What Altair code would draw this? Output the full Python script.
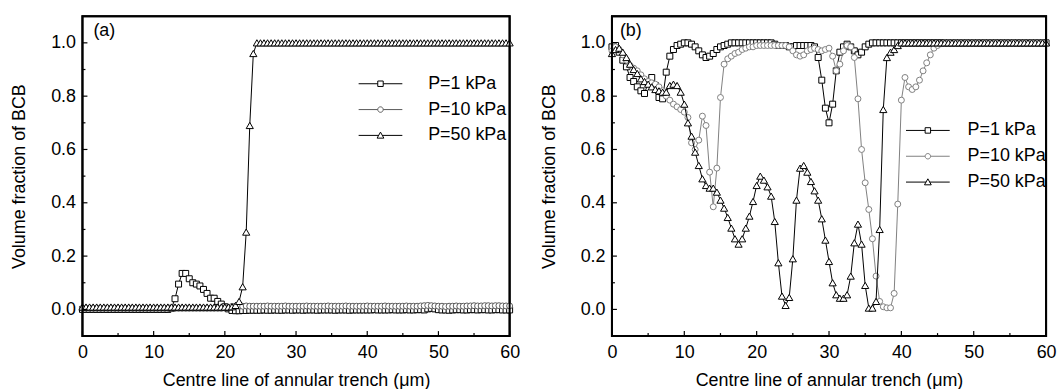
import altair as alt
import pandas as pd

# sample positions along the trench centre line (um)
X_UM = [i / 2 for i in range(121)]

SERIES = ["P=1 kPa", "P=10 kPa", "P=50 kPa"]
COLORS_A = ["#000000", "#5a5a5a", "#000000"]
COLORS_B = ["#000000", "#808080", "#000000"]
SERIES_SHAPES = ["square", "circle", "triangle-up"]
SERIES_SIZES = [36, 36, 52]
LEGEND_PATHS = [
    "M-4,0H-0.5M0.5,0H4M-0.5,-0.5H0.5V0.5H-0.5Z",
    "M-4,0H-0.5M0.5,0H4M0.5,0A0.5,0.5,0,1,1,-0.5,0A0.5,0.5,0,1,1,0.5,0Z",
    "M-4,0H-0.33M0.33,0H4M0,-0.6L0.62,0.5H-0.62Z",
]
PANEL_TAGS = ["(a)", "(b)"]
FRAME_COLOR = "#000000"

X_MAJOR = [0, 10, 20, 30, 40, 50, 60]
X_MINOR = [5, 15, 25, 35, 45, 55]
Y_MAJOR = [0.0, 0.2, 0.4, 0.6, 0.8, 1.0]
Y_MINOR = [0.1, 0.3, 0.5, 0.7, 0.9]

# ---------------- panel (a) ----------------
A_P1 = [
    0, 0, 0, 0, 0, 0, 0, 0, 0, 0,
    0, 0, 0, 0, 0, 0, 0, 0, 0, 0,
    0, 0, 0, 0, 0, 0.004, 0.04, 0.095, 0.135, 0.135,
    0.115, 0.1, 0.095, 0.088, 0.075, 0.06, 0.042, 0.042, 0.03, 0.02,
    0.01, 0.002, -0.004, -0.005, -0.005, -0.004, -0.004, -0.003, -0.003, -0.003,
    -0.003, -0.002, -0.003, -0.003, -0.002, -0.003, -0.003, -0.002, -0.002, -0.003,
    -0.002, -0.002, -0.003, -0.002, -0.002, -0.002, -0.003, -0.002, -0.002, -0.002,
    -0.002, -0.003, -0.002, -0.002, -0.002, -0.003, -0.002, -0.002, -0.002, -0.002,
    -0.002, -0.002, -0.001, -0.002, -0.002, -0.002, -0.002, -0.001, -0.002, -0.002,
    -0.002, -0.001, -0.002, -0.002, -0.001, -0.001, -0.002, 0.002, 0.004, 0.002,
    -0.001, -0.002, -0.002, -0.003, -0.002, -0.001, -0.001, -0.002, -0.002, -0.001,
    -0.001, -0.002, -0.001, -0.001, -0.002, -0.002, -0.001, -0.001, -0.002, -0.002,
    -0.002,
]
A_P10 = [
    0.004, 0.004, 0.004, 0.004, 0.004, 0.004, 0.004, 0.004, 0.004, 0.004,
    0.004, 0.004, 0.004, 0.004, 0.004, 0.004, 0.004, 0.004, 0.004, 0.004,
    0.004, 0.004, 0.004, 0.004, 0.004, 0.004, 0.004, 0.004, 0.004, 0.004,
    0.004, 0.004, 0.004, 0.004, 0.004, 0.004, 0.004, 0.004, 0.004, 0.004,
    0.005, 0.008, 0.011, 0.012, 0.012, 0.012, 0.013, 0.012, 0.012, 0.012,
    0.012, 0.012, 0.013, 0.012, 0.012, 0.012, 0.012, 0.013, 0.012, 0.012,
    0.012, 0.012, 0.012, 0.013, 0.012, 0.012, 0.012, 0.012, 0.012, 0.013,
    0.012, 0.012, 0.012, 0.012, 0.013, 0.012, 0.012, 0.012, 0.012, 0.012,
    0.013, 0.012, 0.012, 0.012, 0.012, 0.013, 0.012, 0.012, 0.012, 0.012,
    0.012, 0.013, 0.012, 0.012, 0.012, 0.013, 0.014, 0.015, 0.014, 0.013,
    0.012, 0.012, 0.011, 0.012, 0.012, 0.013, 0.012, 0.012, 0.013, 0.013,
    0.014, 0.013, 0.013, 0.014, 0.014, 0.013, 0.014, 0.014, 0.013, 0.013,
    0.013,
]
A_P50 = [
    0.009, 0.009, 0.009, 0.009, 0.009, 0.009, 0.009, 0.009, 0.009, 0.009,
    0.009, 0.009, 0.009, 0.009, 0.009, 0.009, 0.009, 0.009, 0.009, 0.009,
    0.009, 0.009, 0.009, 0.009, 0.009, 0.009, 0.009, 0.009, 0.009, 0.009,
    0.009, 0.009, 0.009, 0.009, 0.009, 0.009, 0.009, 0.009, 0.009, 0.009,
    0.009, 0.009, 0.01, 0.015, 0.03, 0.085, 0.29, 0.69, 0.96, 1.0,
    1.0, 1.0, 1.0, 1.0, 1.0, 1.0, 1.0, 1.0, 1.0, 1.0,
    1.0, 1.0, 1.0, 1.0, 1.0, 1.0, 1.0, 1.0, 1.0, 1.0,
    1.0, 1.0, 1.0, 1.0, 1.0, 1.0, 1.0, 1.0, 1.0, 1.0,
    1.0, 1.0, 1.0, 1.0, 1.0, 1.0, 1.0, 1.0, 1.0, 1.0,
    1.0, 1.0, 1.0, 1.0, 1.0, 1.0, 1.0, 1.0, 1.0, 1.0,
    1.0, 1.0, 1.0, 1.0, 1.0, 1.0, 1.0, 1.0, 1.0, 1.0,
    1.0, 1.0, 1.0, 1.0, 1.0, 1.0, 1.0, 1.0, 1.0, 1.0,
    1.0,
]

# ---------------- panel (b) ----------------
B_P1 = [
    0.985, 0.99, 0.965, 0.935, 0.91, 0.87, 0.855, 0.835, 0.82, 0.81,
    0.85, 0.87, 0.84, 0.795, 0.79, 0.89, 0.95, 0.975, 0.99, 0.995,
    1.0, 1.0, 0.995, 0.985, 0.97, 0.955, 0.945, 0.95, 0.96, 0.975,
    0.985, 0.99, 0.995, 1.0, 1.0, 1.0, 1.0, 1.0, 1.0, 1.0,
    1.0, 1.0, 1.0, 1.0, 1.0, 0.995, 0.99, 0.99, 0.99, 0.985,
    0.985, 0.99, 0.99, 0.99, 0.99, 0.99, 0.985, 0.945, 0.86, 0.755,
    0.70, 0.77, 0.895, 0.965, 0.985, 0.995, 0.985, 0.97, 0.955, 0.965,
    0.985, 0.995, 1.0, 1.0, 1.0, 1.0, 1.0, 1.0, 1.0, 1.0,
    1.0, 1.0, 1.0, 1.0, 1.0, 1.0, 1.0, 1.0, 1.0, 1.0,
    1.0, 1.0, 1.0, 1.0, 1.0, 1.0, 1.0, 1.0, 1.0, 1.0,
    1.0, 1.0, 1.0, 1.0, 1.0, 1.0, 1.0, 1.0, 1.0, 1.0,
    1.0, 1.0, 1.0, 1.0, 1.0, 1.0, 1.0, 1.0, 1.0, 1.0,
    1.0,
]
B_P10 = [
    0.97, 0.985, 0.975, 0.955, 0.935, 0.915, 0.905, 0.895, 0.88, 0.865,
    0.855, 0.85, 0.845, 0.835, 0.82, 0.80, 0.785, 0.77, 0.76, 0.75,
    0.74, 0.72, 0.625, 0.60, 0.635, 0.725, 0.69, 0.515, 0.385, 0.53,
    0.795, 0.92, 0.94, 0.95, 0.96, 0.965, 0.975, 0.98, 0.985, 0.985,
    0.99, 0.99, 0.99, 0.99, 0.99, 0.99, 0.99, 0.99, 0.99, 0.985,
    0.97, 0.955, 0.95, 0.955, 0.97, 0.975, 0.98, 0.975, 0.97, 0.975,
    0.98, 0.95, 0.895, 0.92, 0.97, 0.99, 0.985, 0.945, 0.79, 0.60,
    0.475, 0.375, 0.265, 0.125, 0.03, 0.01, 0.006, 0.006, 0.06, 0.395,
    0.785, 0.87, 0.835, 0.825, 0.835, 0.86, 0.895, 0.925, 0.955, 0.98,
    0.99, 0.997, 1.0, 1.0, 1.0, 1.0, 1.0, 1.0, 1.0, 1.0,
    1.0, 1.0, 1.0, 1.0, 1.0, 1.0, 1.0, 1.0, 1.0, 1.0,
    1.0, 1.0, 1.0, 1.0, 1.0, 1.0, 1.0, 1.0, 1.0, 1.0,
    1.0,
]
B_P50 = [
    0.96, 0.975, 0.98, 0.965, 0.945, 0.92, 0.90, 0.885, 0.865, 0.855,
    0.845, 0.835, 0.825, 0.82, 0.815, 0.815, 0.84, 0.845, 0.84, 0.815,
    0.77, 0.70, 0.65, 0.59, 0.54, 0.49, 0.465, 0.455, 0.455, 0.44,
    0.41, 0.38, 0.345, 0.305, 0.265, 0.245, 0.265, 0.305, 0.35, 0.405,
    0.465, 0.50, 0.485, 0.46, 0.425, 0.33, 0.175, 0.05, 0.015, 0.045,
    0.19, 0.41, 0.53, 0.54, 0.515, 0.48, 0.445, 0.41, 0.34, 0.26,
    0.18, 0.10, 0.055, 0.042, 0.042, 0.055, 0.125, 0.25, 0.32, 0.245,
    0.09, 0.005, 0.005, 0.03, 0.30, 0.75, 0.945, 0.965, 0.975, 0.99,
    1.0, 1.0, 1.0, 1.0, 1.0, 1.0, 1.0, 1.0, 1.0, 1.0,
    1.0, 1.0, 1.0, 1.0, 1.0, 1.0, 1.0, 1.0, 1.0, 1.0,
    1.0, 1.0, 1.0, 1.0, 1.0, 1.0, 1.0, 1.0, 1.0, 1.0,
    1.0, 1.0, 1.0, 1.0, 1.0, 1.0, 1.0, 1.0, 1.0, 1.0,
    1.0,
]

FONT = "Liberation Sans"
FS = 18
H = 322


def panel(series_values, colors, tag, width, leg_x, leg_y, lab_off, tag_dx):
    xs = alt.Scale(domain=[0, 60], nice=False, zero=False)
    ys = alt.Scale(domain=[-0.1, 1.1], nice=False, zero=False)
    x_axis = alt.Axis(values=X_MAJOR, orient="bottom", ticks=False, domain=False, grid=False,
                      labelPadding=8, labelFlush=False,
                      title="Centre line of annular trench (\u03bcm)", titlePadding=10)
    y_axis = alt.Axis(values=Y_MAJOR, orient="left", ticks=False, domain=False, grid=False,
                      labelPadding=7, format=".1f",
                      title="Volume fraction of BCB", titlePadding=22)

    layers = []
    for i, (name, vals) in enumerate(zip(SERIES, series_values)):
        df = pd.DataFrame({"x": X_UM, "y": vals})
        enc_x = alt.X("x:Q", scale=xs, axis=x_axis) if i == 0 else alt.X("x:Q")
        enc_y = alt.Y("y:Q", scale=ys, axis=y_axis) if i == 0 else alt.Y("y:Q")
        layers.append(alt.Chart(df).mark_line(strokeWidth=1, color=colors[i]).encode(x=enc_x, y=enc_y))
        layers.append(alt.Chart(df).mark_point(
            shape=SERIES_SHAPES[i], size=SERIES_SIZES[i], filled=True, fill="white",
            stroke=colors[i], strokeWidth=1, opacity=1,
        ).encode(x="x:Q", y="y:Q"))

    # inward tick marks along bottom and left edges
    layers.append(alt.Chart(pd.DataFrame({"v": X_MAJOR})).mark_rule(color=FRAME_COLOR, strokeWidth=1.2).encode(
        x="v:Q", y=alt.value(H), y2=alt.value(H - 5)))
    layers.append(alt.Chart(pd.DataFrame({"v": X_MINOR})).mark_rule(color=FRAME_COLOR, strokeWidth=1.2).encode(
        x="v:Q", y=alt.value(H), y2=alt.value(H - 3)))
    layers.append(alt.Chart(pd.DataFrame({"v": Y_MAJOR})).mark_rule(color=FRAME_COLOR, strokeWidth=1.2).encode(
        y="v:Q", x=alt.value(0), x2=alt.value(5)))
    layers.append(alt.Chart(pd.DataFrame({"v": Y_MINOR})).mark_rule(color=FRAME_COLOR, strokeWidth=1.2).encode(
        y="v:Q", x=alt.value(0), x2=alt.value(3)))

    # plot frame
    layers.append(alt.Chart(pd.DataFrame({"v": [0]})).mark_rect(
        fillOpacity=0, stroke=FRAME_COLOR, strokeWidth=2
    ).encode(x=alt.value(0), x2=alt.value(width), y=alt.value(0), y2=alt.value(H)))

    # panel tag
    layers.append(alt.Chart(pd.DataFrame({"tag": [tag]})).mark_text(
        align="left", baseline="alphabetic", fontSize=FS, font=FONT, color="#000000"
    ).encode(text="tag:N", x=alt.value(tag_dx), y=alt.value(20)))

    # legend: line + marker symbols
    leg_params = dict(title=None, orient="none", legendX=leg_x, legendY=leg_y,
                      symbolSize=121, symbolOpacity=1, symbolFillColor="white",
                      symbolStrokeWidth=1, symbolOffset=13, labelOffset=lab_off,
                      rowPadding=8, labelFontSize=FS, labelFont=FONT,
                      labelColor="#000000", padding=0)
    layers.append(alt.Chart(pd.DataFrame({"series": SERIES})).mark_point(
        filled=True, fill="white", opacity=0, strokeWidth=1, size=121
    ).encode(
        shape=alt.Shape("series:N", scale=alt.Scale(domain=SERIES, range=LEGEND_PATHS),
                        legend=alt.Legend(**leg_params)),
        stroke=alt.Stroke("series:N", scale=alt.Scale(domain=SERIES, range=colors),
                          legend=alt.Legend(**leg_params)),
    ))

    return alt.layer(*layers).properties(width=width, height=H)


panel_a = panel([A_P1, A_P10, A_P50], COLORS_A, PANEL_TAGS[0], 430, 278, 59, 39, 11)
panel_b = panel([B_P1, B_P10, B_P50], COLORS_B, PANEL_TAGS[1], 437, 296, 106, 31, 8)

chart = alt.hconcat(panel_a, panel_b, spacing=17).resolve_scale(
    shape="independent", stroke="independent"
).properties(
    padding={"left": 9, "top": 13, "right": 0, "bottom": 0}
).configure_view(
    stroke=FRAME_COLOR, strokeWidth=2
).configure_axis(
    labelFont=FONT, titleFont=FONT, labelFontSize=FS, titleFontSize=FS,
    titleFontWeight="normal", labelColor="#000000", titleColor="#000000",
)

chart.save("out.html", embed_options={"renderer": "svg", "actions": False})
